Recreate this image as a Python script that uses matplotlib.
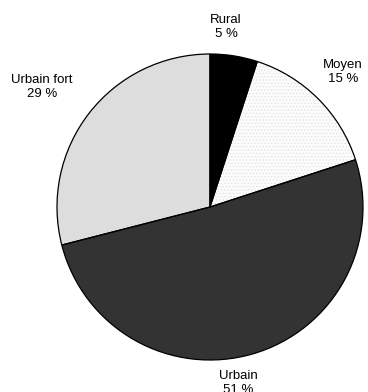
import matplotlib

matplotlib.use("Agg")
import matplotlib.pyplot as plt

plt.rcParams["font.family"] = ["Liberation Sans", "DejaVu Sans"]
plt.rcParams["hatch.linewidth"] = 0.3

# Répartition des communes par type d'espace
categories = ["Rural", "Moyen", "Urbain", "Urbain fort"]
parts = [5, 15, 51, 29]
colors = ["#000000", "#fbfbfb", "#333333", "#dddddd"]
hatches = [None, ".....", None, None]

# position des étiquettes (repère du camembert, rayon = 1)
label_xy = [(0.105, 1.176), (0.869, 0.882), (0.183, -1.150), (-1.098, 0.784)]

fig = plt.figure(figsize=(3.68, 3.92), dpi=100)
ax = fig.add_axes([57 / 368, 32 / 392, 306 / 368, 306 / 392])

# remplissages (la trame prend la couleur du bord -> gris clair)
wedges, _ = ax.pie(parts, colors=colors, startangle=90, counterclock=False,
                   radius=1.0, wedgeprops={"linewidth": 0})
for w, h in zip(wedges, hatches):
    if h:
        w.set_hatch(h)
        w.set_edgecolor("#d8d8d8")

# contours noirs par-dessus
outline, _ = ax.pie(parts, startangle=90, counterclock=False, radius=1.0,
                    wedgeprops={"fill": False, "edgecolor": "black",
                                "linewidth": 0.9})

for cat, val, (x, y) in zip(categories, parts, label_xy):
    ax.text(x, y, f"{cat}\n{val} %", ha="center", va="center", fontsize=9.5,
            linespacing=1.25, clip_on=False)

ax.set_xlim(-1, 1)
ax.set_ylim(-1, 1)
ax.set_aspect("equal")
ax.axis("off")

fig.savefig("out.png", dpi=100)
